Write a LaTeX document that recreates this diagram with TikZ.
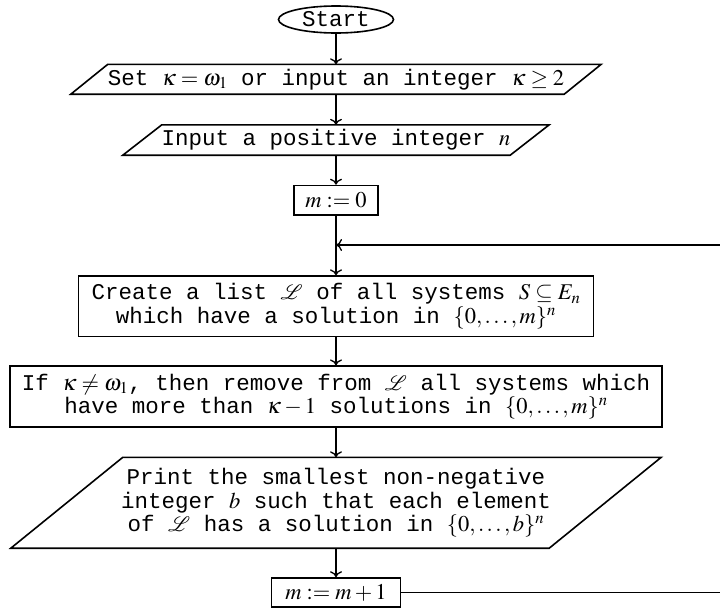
\documentclass[tikz,border=0pt]{standalone}
\usepackage{mathptmx}
\usepackage{mathrsfs}
\usepackage[no-math]{fontspec}
\setmainfont{Liberation Mono}
\usetikzlibrary{arrows.meta,shapes.geometric}
\begin{document}
\begin{tikzpicture}[x=1pt,y=-1pt,
  every node/.style={font=\fontsize{22.5}{23.5}\selectfont},
  box/.style={draw, line width=1.6pt, rectangle, inner sep=0pt, align=center},
  slanted/.style={rectangle, inner sep=0pt, align=center},
  pborder/.style={line width=1.6pt, line join=miter},
  arr/.style={line width=1.3pt, -{To[length=6pt,width=12pt]}}]
\useasboundingbox (0,0) rectangle (720,608);

\node[draw, ellipse, line width=1.6pt, minimum width=115pt, minimum height=27pt, inner sep=0pt] (start) at (336,19.5) {Start};

\node[slanted, minimum width=530pt, minimum height=29.5pt] (p1) at (336,79.25)
  {Set $\kappa=\omega_1$ or input an integer $\kappa\geq 2$};
\draw[pborder] (p1.south west) -- ([xshift=37pt]p1.north west) -- (p1.north east) -- ([xshift=-37pt]p1.south east) -- cycle;

\node[slanted, minimum width=426pt, minimum height=30pt] (p2) at (336,140)
  {Input a positive integer $n$};
\draw[pborder] (p2.south west) -- ([xshift=39pt]p2.north west) -- (p2.north east) -- ([xshift=-39pt]p2.south east) -- cycle;

\node[box, minimum width=84pt, minimum height=29.5pt] (m0) at (336,200.25) {$m:=0$};

\coordinate (join) at (336,245);

\node[box, minimum width=515pt, minimum height=60.5pt] (create) at (336,306.4)
  {Create a list $\mathscr{L}$ of all systems $S\subseteq E_n$\\
   which have a solution in $\{0,\ldots,m\}^n$};

\node[box, minimum width=652pt, minimum height=61pt] (remove) at (336,396.7)
  {If $\kappa\neq\omega_1$, then remove from $\mathscr{L}$ all systems which\\
   have more than $\kappa-1$ solutions in $\{0,\ldots,m\}^n$};

\node[slanted, minimum width=650pt, minimum height=90.5pt] (print) at (336,502.75)
  {Print the smallest non-negative\\
   integer $b$ such that each element\\
   of $\mathscr{L}$ has a solution in $\{0,\ldots,b\}^n$};
\draw[pborder] (print.south west) -- ([xshift=112pt]print.north west) -- (print.north east) -- ([xshift=-112pt]print.south east) -- cycle;

\node[box, minimum width=129pt, minimum height=29pt] (m1) at (336,592.5) {$m:=m+1$};

\coordinate (loopx) at (735,245);

\draw[arr] (start.south) -- (p1.north);
\draw[arr] (p1.south) -- (p2.north);
\draw[arr] (p2.south) -- (m0.north);
\draw[arr] (m0.south) -- (create.north);
\draw[arr] (create.south) -- (remove.north);
\draw[arr] (remove.south) -- (print.north);
\draw[arr] (print.south) -- (m1.north);
\draw[arr] (m1.east) -- (m1.east -| loopx) -- (loopx) -- (join);
\end{tikzpicture}
\end{document}
